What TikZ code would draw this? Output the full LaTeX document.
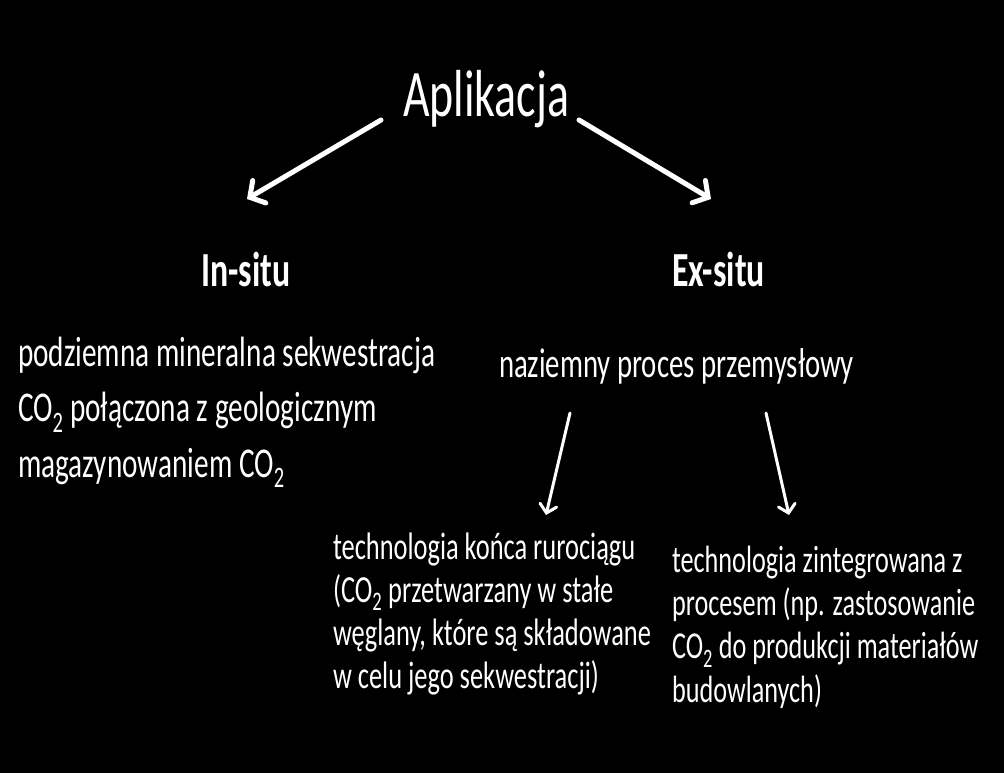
\documentclass[tikz,border=0pt]{standalone}
\usepackage{fontspec}
\setmainfont{Carlito}
\newfontfamily\cf[FakeStretch=0.69]{Carlito}
\usetikzlibrary{arrows.meta}
\tikzset{
  txt/.style={text=white, inner sep=0pt, outer sep=0pt, anchor=base west, font=\cf},
  blk/.style={txt, align=left},
  bigarrow/.style={draw=white, line width=5pt, line cap=round, -{Straight Barb[length=11pt,width=26pt,line cap=round]}},
  smallarrow/.style={draw=white, line width=3pt, line cap=round, -{Straight Barb[length=8pt,width=17pt,line cap=round]}},
}
\begin{document}
\begin{tikzpicture}[x=1pt,y=-1pt]
\fill[black] (0,0) rectangle (1004,773);
\useasboundingbox (0,0) rectangle (1004,773);

\node[txt, font=\cf\fontsize{66.5}{70}\selectfont] (app) at (403,117) {Aplikacja};
\node[txt, font=\cf\bfseries\fontsize{49}{56}\selectfont] (in) at (201,286) {In-situ};
\node[txt, font=\cf\bfseries\fontsize{49}{56}\selectfont] (ex) at (672,286) {Ex-situ};

% base anchor of a multi-line node = baseline of its last line
\node[blk, font=\cf\fontsize{42.4}{55.5}\selectfont] (inb) at (18,477)
  {podziemna mineralna sekwestracja\\CO\textsubscript{2} połączona z geologicznym\\magazynowaniem CO\textsubscript{2}};
\node[txt, font=\cf\fontsize{41.7}{50}\selectfont] (exb) at (499,377) {naziemny proces przemysłowy};

\node[blk, font=\cf\fontsize{38.3}{43}\selectfont] (eop) at (333,688)
  {technologia końca rurociągu\\(CO\textsubscript{2} przetwarzany w stałe\\węglany, które są składowane\\w celu jego sekwestracji)};
\node[blk, font=\cf\fontsize{38}{43.3}\selectfont] (int) at (672,702)
  {technologia zintegrowana z\\procesem (np. zastosowanie\\CO\textsubscript{2} do produkcji materiałów\\budowlanych)};

\coordinate (a1s) at (381,120);
\coordinate (a1e) at (247,199);
\coordinate (a2s) at (579,120);
\coordinate (a2e) at (711,199);
\coordinate (a3s) at (570,413);
\coordinate (a3e) at (546,515);
\coordinate (a4s) at (766,413);
\coordinate (a4e) at (789,515);

\draw[bigarrow] (a1s) -- (a1e);
\draw[bigarrow] (a2s) -- (a2e);
\draw[smallarrow] (a3s) -- (a3e);
\draw[smallarrow] (a4s) -- (a4e);
\end{tikzpicture}
\end{document}
